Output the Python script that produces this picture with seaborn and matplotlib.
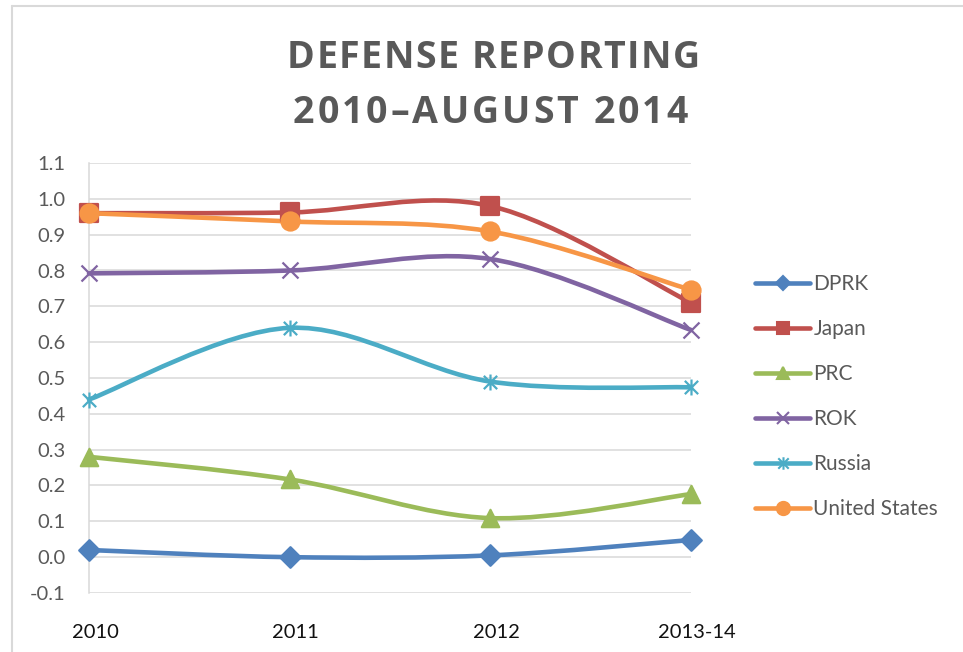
import numpy as np
import pandas as pd
import matplotlib
matplotlib.use("Agg")
import matplotlib.pyplot as plt
import matplotlib.transforms as mtransforms
import seaborn as sns
from matplotlib.path import Path
from matplotlib.patches import PathPatch
from matplotlib.lines import Line2D
from matplotlib.font_manager import FontProperties, findfont, get_font

# --- data ---
periods = ["2010", "2011", "2012", "2013-14"]
dprk = [0.02, 0.00, 0.005, 0.048]
japan = [0.96, 0.962, 0.98, 0.71]
prc = [0.28, 0.217, 0.109, 0.176]
rok = [0.792, 0.80, 0.832, 0.634]
russia = [0.44, 0.64, 0.49, 0.474]
united_states = [0.96, 0.937, 0.909, 0.746]

y_ticks = [round(-0.1 + 0.1 * i, 1) for i in range(13)]

series = {
    "DPRK": dprk,
    "Japan": japan,
    "PRC": prc,
    "ROK": rok,
    "Russia": russia,
    "United States": united_states,
}

# office 2007 theme colours
colors = {
    "DPRK": "#4F81BD",
    "Japan": "#C0504D",
    "PRC": "#9BBB59",
    "ROK": "#8064A2",
    "Russia": "#4BACC6",
    "United States": "#F79646",
}

# excel "star" marker: an x with a vertical bar through it
star = Path([(-1, -1), (1, 1), (-1, 1), (1, -1), (0, -1.2), (0, 1.2)],
            [Path.MOVETO, Path.LINETO, Path.MOVETO, Path.LINETO, Path.MOVETO, Path.LINETO])

# marker, size on the plot, size in the legend
markers = {
    "DPRK": ("D", 10.5, 7.5),
    "Japan": ("s", 12.5, 9),
    "PRC": ("^", 12.5, 9),
    "ROK": ("x", 11.5, 9),
    "Russia": (star, 11.5, 9),
    "United States": ("o", 13, 9.5),
}

GRID = "#D9D9D9"
TEXT = "#595959"
W, H = 963, 652
LW = 3.3


def smooth_path(xs, ys, t=1.0 / 6):
    """Excel-style smoothed line: cubic bezier through every point."""
    pts = np.column_stack([xs, ys]).astype(float)
    n = len(pts)
    verts = [pts[0]]
    codes = [Path.MOVETO]
    for i in range(n - 1):
        p0 = pts[max(i - 1, 0)]
        p1 = pts[i]
        p2 = pts[i + 1]
        p3 = pts[min(i + 2, n - 1)]
        c1 = p1 + (p2 - p0) * t
        c2 = p2 - (p3 - p1) * t
        verts += [c1, c2, p2]
        codes += [Path.CURVE4] * 3
    return Path(verts, codes)


def spaced_title(fig, s, xc_px, base_px, target_px, size, family):
    """Excel titles have extra letter spacing, so place letters one by one."""
    prop = FontProperties(family=family, weight="bold", size=size)
    font = get_font(findfont(prop))
    font.set_size(size, fig.dpi)
    adv = [font.load_char(ord(ch)).linearHoriAdvance / 65536 for ch in s]
    track = (target_px - sum(adv)) / (len(s) - 1)
    x = xc_px - target_px / 2
    for ch, a in zip(s, adv):
        if ch != " ":
            fig.text(x / W, 1 - base_px / H, ch, ha="left", va="baseline",
                     fontproperties=prop, color=TEXT)
        x += a + track


sns.set_theme(style="white")
plt.rcParams["font.family"] = ["Lato", "DejaVu Sans"]

fig = plt.figure(figsize=(W / 100, H / 100), dpi=100)
ax = fig.add_axes([89 / W, 59 / H, 602 / W, 430 / H])

x_pos = np.arange(len(periods))
for name, vals in series.items():
    col = colors[name]
    patch = PathPatch(smooth_path(x_pos, vals), facecolor="none", edgecolor=col,
                      lw=LW, capstyle="round", joinstyle="round", clip_on=False, zorder=3)
    ax.add_patch(patch)
    m, ms, _ = markers[name]
    df = pd.DataFrame({"x": x_pos, "y": vals})
    sns.scatterplot(data=df, x="x", y="y", ax=ax, marker=m, s=ms ** 2, color=col,
                    edgecolor=col, linewidth=1.6, clip_on=False, zorder=4, legend=False)

ax.set_xlim(0, len(periods) - 1)
ax.set_ylim(-0.1, 1.1)
ax.set_yticks(y_ticks)
ax.set_yticklabels([f"{v:.1f}" for v in y_ticks])
ax.set_xticks(x_pos)
ax.set_xticklabels(periods)
ax.set_xlabel("")
ax.set_ylabel("")

ax.grid(axis="y", color=GRID, lw=1.1)
ax.grid(axis="x", visible=False)
for side in ["top", "right", "bottom"]:
    ax.spines[side].set_visible(False)
ax.spines["left"].set_color(GRID)
ax.spines["left"].set_linewidth(1.1)
ax.tick_params(axis="y", length=0, pad=17, labelsize=14.5, labelcolor=TEXT)
ax.tick_params(axis="x", length=0, pad=22, labelsize=14.5, labelcolor="#111111")
# category labels sit a few pixels right of their tick in the reference
shift = mtransforms.ScaledTranslation(6 / 100, 0, fig.dpi_scale_trans)
for lbl in ax.get_xticklabels():
    lbl.set_transform(lbl.get_transform() + shift)

handles = []
for name in series:
    m, _, lms = markers[name]
    handles.append(Line2D([0], [0], color=colors[name], lw=LW, marker=m,
                          markersize=lms, markeredgecolor=colors[name],
                          markeredgewidth=1.5, solid_capstyle="round"))
leg = fig.legend(handles, list(series.keys()), loc="upper left",
                 bbox_to_anchor=(755 / W, 1 - 274 / H), frameon=False,
                 fontsize=15, handlelength=2.65, handletextpad=0.15,
                 labelspacing=1.2, borderpad=0, borderaxespad=0)
for txt in leg.get_texts():
    txt.set_color(TEXT)

spaced_title(fig, "DEFENSE REPORTING", 493.5, 68.3, 413, 27, ["Open Sans", "DejaVu Sans"])
spaced_title(fig, "2010\u2013AUGUST 2014", 490.5, 123.3, 395, 27, ["Open Sans", "DejaVu Sans"])

# chart border (only top and left edges show in the crop)
fig.add_artist(Line2D([12 / W, 12 / W], [0, 1 - 6 / H], transform=fig.transFigure,
                      color=GRID, lw=1.5))
fig.add_artist(Line2D([12 / W, 1], [1 - 6 / H, 1 - 6 / H], transform=fig.transFigure,
                      color=GRID, lw=1.5))

fig.savefig("out.png", dpi=100)
